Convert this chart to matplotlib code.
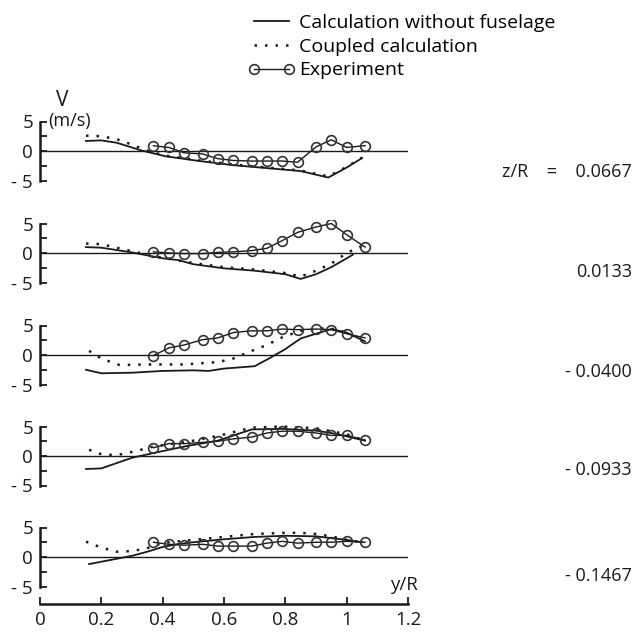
import matplotlib
matplotlib.use("Agg")
import matplotlib.pyplot as plt
from matplotlib.lines import Line2D

plt.rcParams['font.family'] = ['Open Sans', 'DejaVu Sans']

# ---------------- data ----------------
panel_labels = ["z/R    =    0.0667", "0.0133", "- 0.0400", "- 0.0933", "- 0.1467"]

exp_x = [0.37, 0.42, 0.47, 0.53, 0.58, 0.63, 0.69, 0.74, 0.79, 0.84, 0.90, 0.95, 1.00, 1.06]
exp_v = [
    [0.9, 0.6, -0.3, -0.5, -1.3, -1.6, -1.7, -1.7, -1.7, -1.9, 0.7, 1.9, 0.6, 0.9],
    [0.2, 0.0, -0.1, -0.1, 0.1, 0.2, 0.4, 0.8, 2.1, 3.5, 4.4, 5.0, 3.1, 1.0],
    [-0.1, 1.2, 1.7, 2.6, 2.9, 3.8, 4.1, 4.1, 4.4, 4.3, 4.4, 4.3, 3.6, 2.9],
    [1.4, 2.1, 2.1, 2.3, 2.5, 2.9, 3.2, 3.9, 4.2, 4.2, 3.9, 3.5, 3.5, 2.7],
    [2.5, 2.15, 2.0, 2.15, 1.85, 1.85, 1.85, 2.35, 2.65, 2.35, 2.5, 2.5, 2.65, 2.5],
]

# calculation without fuselage (solid)
sol_x = [
    [0.15, 0.20, 0.25, 0.33, 0.41, 0.52, 0.63, 0.74, 0.85, 0.94, 1.00, 1.05],
    [0.15, 0.20, 0.30, 0.35, 0.40, 0.45, 0.50, 0.60, 0.70, 0.80, 0.85, 0.90, 0.95, 1.02],
    [0.15, 0.20, 0.30, 0.40, 0.50, 0.55, 0.60, 0.70, 0.75, 0.80, 0.85, 0.90, 0.95, 1.00, 1.06],
    [0.15, 0.20, 0.30, 0.37, 0.48, 0.58, 0.69, 0.79, 0.90, 0.96, 1.06],
    [0.16, 0.20, 0.25, 0.30, 0.35, 0.40, 0.45, 0.50, 0.60, 0.70, 0.80, 0.90, 1.00, 1.05],
]
sol_v = [
    [1.7, 1.8, 1.4, 0.1, -0.9, -1.7, -2.4, -2.9, -3.4, -4.5, -2.8, -1.2],
    [1.0, 0.9, 0.1, -0.4, -0.9, -1.2, -1.9, -2.6, -3.0, -3.6, -4.4, -3.6, -2.4, -0.3],
    [-2.5, -3.1, -3.0, -2.7, -2.6, -2.7, -2.3, -1.9, -0.5, 1.0, 2.8, 3.6, 4.4, 3.8, 2.3],
    [-2.2, -2.1, -0.3, 0.5, 1.7, 2.6, 4.5, 4.6, 4.3, 3.8, 2.6],
    [-1.2, -0.8, -0.3, 0.2, 0.9, 1.7, 2.2, 2.5, 3.0, 3.4, 3.6, 3.5, 2.9, 2.5],
]

# coupled calculation (dotted)
cpl_x = [
    [0.15, 0.20, 0.25, 0.31, 0.34, 0.41, 0.52, 0.63, 0.74, 0.85, 0.94, 1.00, 1.05],
    [0.15, 0.20, 0.25, 0.30, 0.35, 0.40, 0.50, 0.60, 0.70, 0.80, 0.85, 0.90, 0.95, 1.00, 1.05],
    [0.16, 0.20, 0.26, 0.36, 0.47, 0.58, 0.63, 0.70, 0.74, 0.79, 0.85, 0.94, 1.00, 1.06],
    [0.16, 0.20, 0.25, 0.31, 0.37, 0.48, 0.58, 0.69, 0.79, 0.90, 1.00, 1.06],
    [0.15, 0.20, 0.25, 0.30, 0.35, 0.40, 0.50, 0.60, 0.70, 0.80, 0.85, 0.90, 0.95, 1.00, 1.05],
]
cpl_v = [
    [2.6, 2.5, 2.0, 0.9, 0.2, -0.8, -1.6, -2.3, -2.8, -3.3, -4.3, -2.7, -1.1],
    [1.6, 1.5, 0.9, 0.3, -0.3, -0.8, -1.7, -2.4, -2.8, -3.4, -4.0, -3.0, -1.8, 0.0, 1.2],
    [0.7, -0.6, -1.7, -1.6, -1.6, -1.2, -0.6, 0.9, 1.7, 3.0, 4.1, 4.6, 3.8, 2.1],
    [1.05, 0.3, 0.15, 0.8, 1.6, 2.4, 3.4, 4.8, 5.0, 4.7, 3.7, 2.6],
    [2.6, 1.6, 0.9, 1.0, 1.5, 2.4, 2.9, 3.4, 3.9, 4.1, 4.1, 3.9, 3.5, 2.9, 2.5],
]

x_ticks = [0.2, 0.4, 0.6, 0.8, 1.0, 1.2]
x_ticklabels = ["0.2", "0.4", "0.6", "0.8", "1", "1.2"]
y_ticks = [-5, 0, 5]
y_ticklabels = ["- 5", "0", "5"]

# ---------------- layout ----------------
W, H = 637, 633
fig = plt.figure(figsize=(W / 100, H / 100), dpi=100)
zero_px = [151, 253, 355, 456, 557]
label_px = [172, 272, 372, 470, 576]
scale = 5.9       # px per m/s
hi = 5.6
left_px, right_px = 40, 408
ink = '#1a1a1a'
fs_tick = 13.5
fs_lab = 13

for i in range(5):
    lo = 8.0 if i == 4 else 5.6
    bottom = 1 - (zero_px[i] + lo * scale) / H
    height = (hi + lo) * scale / H
    ax = fig.add_axes([left_px / W, bottom, (right_px - left_px) / W, height])
    ax.set_xlim(0, 1.2)
    ax.set_ylim(-lo, hi)
    for s in ['top', 'right']:
        ax.spines[s].set_visible(False)
    ax.spines['left'].set_bounds(-5, 5)
    ax.spines['left'].set_linewidth(1.8)
    ax.spines['left'].set_color(ink)
    ax.set_yticks(y_ticks)
    ax.set_yticklabels(y_ticklabels, fontsize=fs_tick)
    ax.set_yticks([-2.5, 2.5], minor=True)
    ax.tick_params(axis='y', which='both', direction='in', length=5, width=1.3,
                   colors=ink, pad=5)
    ax.axhline(0, color=ink, lw=1.0)

    ax.plot(sol_x[i], sol_v[i], color=ink, lw=1.3)
    ax.plot(cpl_x[i], cpl_v[i], color=ink, lw=1.8, linestyle=(0, (1, 3.2)))
    ax.plot(exp_x, exp_v[i], color=ink, lw=1.0, marker='o', markersize=7,
            markerfacecolor='none', markeredgecolor='#333333', markeredgewidth=1.2)

    if i < 4:
        ax.spines['bottom'].set_visible(False)
        ax.set_xticks([])
    else:
        ax.spines['bottom'].set_bounds(0, 1.2)
        ax.spines['bottom'].set_linewidth(1.8)
        ax.spines['bottom'].set_color(ink)
        ax.set_xticks([0] + x_ticks)
        ax.set_xticklabels(["0"] + x_ticklabels, fontsize=fs_tick)
        ax.tick_params(axis='x', direction='in', length=5, width=1.3, colors=ink, pad=5)
    ax.patch.set_visible(False)

    fig.text(632 / W, 1 - label_px[i] / H, panel_labels[i], ha='right', va='center',
             fontsize=fs_lab, color=ink)

fig.text(62 / W, 1 - 100 / H, "V", ha='center', va='center', fontsize=15, color=ink)
fig.text(70 / W, 1 - 121 / H, "(m/s)", ha='center', va='center', fontsize=13, color=ink)
fig.text(404 / W, 1 - 585 / H, "y/R", ha='center', va='center', fontsize=fs_tick, color=ink)

handles = [
    Line2D([], [], color=ink, lw=1.3),
    Line2D([], [], color=ink, lw=1.8, linestyle=(0, (1, 3.2))),
    Line2D([], [], color=ink, lw=1.0, marker='o', markersize=7,
           markerfacecolor='none', markeredgecolor='#333333', markeredgewidth=1.2),
]
labels = ["Calculation without fuselage", "Coupled calculation", "Experiment"]
fig.legend(handles, labels, loc='upper left', bbox_to_anchor=(240 / W, 1 - 6 / H),
           frameon=False, fontsize=14, handlelength=2.4, handletextpad=0.25,
           labelspacing=0.3, numpoints=2, borderaxespad=0)

fig.savefig("out.png", dpi=100)
